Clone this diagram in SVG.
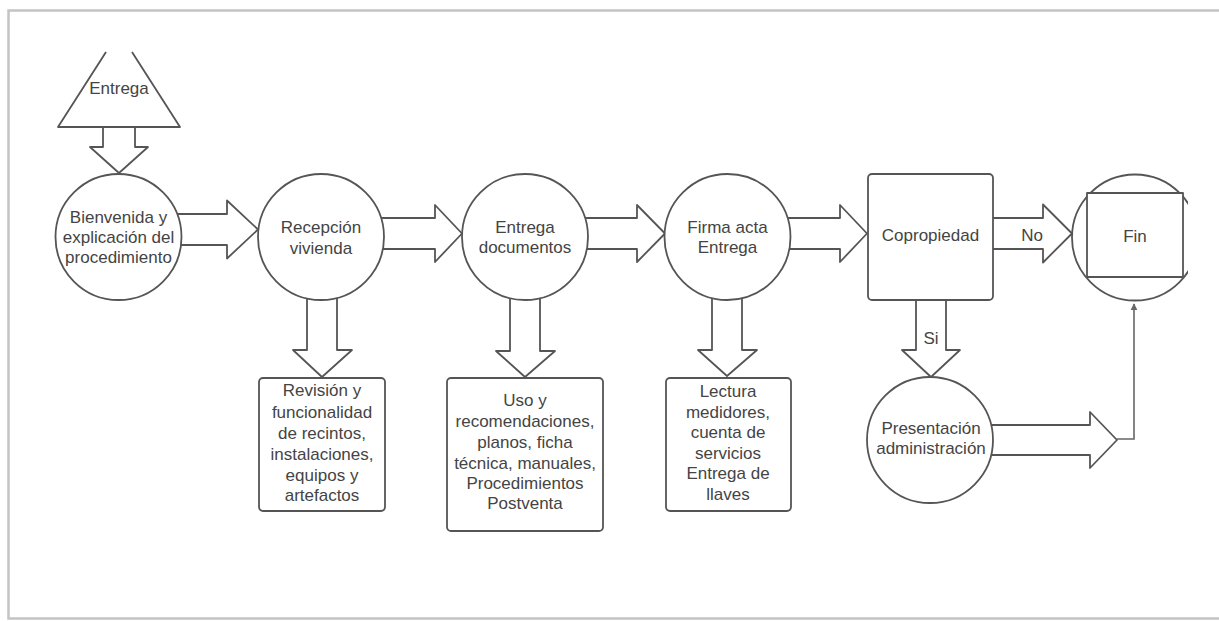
<svg xmlns="http://www.w3.org/2000/svg" width="1219" height="621" viewBox="0 0 1219 621">
<defs>
<style>
.s{fill:#fff;stroke:#555;stroke-width:1.8;stroke-linejoin:round}
.t{font-family:"Liberation Sans",Arial,sans-serif;font-size:17px;fill:#444;text-anchor:middle}
.ln{fill:none;stroke:#666;stroke-width:1.6}
.frame{fill:none;stroke:#c4c4c4;stroke-width:2.5}
</style>
<marker id="ah" viewBox="0 0 10 10" refX="9" refY="5" markerWidth="7" markerHeight="9" markerUnits="userSpaceOnUse" orient="auto">
<path d="M0,0 L10,5 L0,10 Z" fill="#666"/>
</marker>
<clipPath id="finclip"><rect x="1060" y="160" width="128" height="160"/></clipPath>
</defs>
<rect width="1219" height="621" fill="#fff"/>
<path class="frame" d="M1219,10.5 H8.5 V618.5 H1219"/>
<g id="connectors">
<polygon class="s" points="175,214 227,214 227,200.5 258,229.5 227,258.5 227,245 175,245"/>
<polygon class="s" points="378,218 435,218 435,205 462,233.5 435,262 435,249 378,249"/>
<polygon class="s" points="582,218 637,218 637,205 665,233.5 637,262 637,249 582,249"/>
<polygon class="s" points="785,218 840,218 840,205 867,233.5 840,262 840,249 785,249"/>
<polygon class="s" points="990,218 1043,218 1043,204.5 1072,233.5 1043,262.5 1043,249 990,249"/>
<text class="t" x="1032" y="241">No</text>
<polygon class="s" points="985,425 1090,425 1090,412 1117,440 1090,468 1090,455 985,455"/>
<polyline class="ln" points="1117,439 1134,439 1134,304" marker-end="url(#ah)"/>
<polygon class="s" points="103,122 103,147 90,147 119,173 148,147 135,147 135,122"/>
<polygon class="s" points="307,295 307,350 293,350 322,377 352,350 337,350 337,295"/>
<polygon class="s" points="510,295 510,351 496,351 525,377 555,351 540,351 540,295"/>
<polygon class="s" points="712,295 712,350 698,350 727,376 757,350 742,350 742,295"/>
<polygon class="s" points="916,298 916,350 902,350 931,377 960,350 946,350 946,298"/>
<text class="t" x="931" y="344">Si</text>
</g>
<g id="n-entrega">
<path class="s" d="M106,52 L58,127 L180,127 L132,52"/>
<text class="t" x="119" y="94">Entrega</text>
</g>
<g id="n-bienvenida">
<circle class="s" cx="118.5" cy="237" r="63"/>
<text class="t" x="118.5" y="223">Bienvenida y</text>
<text class="t" x="118.5" y="243">explicación del</text>
<text class="t" x="118.5" y="263">procedimiento</text>
</g>
<g id="n-recepcion">
<circle class="s" cx="321" cy="237" r="63"/>
<text class="t" x="321" y="233">Recepción</text>
<text class="t" x="321" y="254">vivienda</text>
</g>
<g id="n-documentos">
<circle class="s" cx="525" cy="237" r="63"/>
<text class="t" x="525" y="233">Entrega</text>
<text class="t" x="525" y="253">documentos</text>
</g>
<g id="n-firma">
<circle class="s" cx="727.5" cy="237" r="63"/>
<text class="t" x="727.5" y="233">Firma acta</text>
<text class="t" x="727.5" y="253">Entrega</text>
</g>
<g id="n-copropiedad">
<rect class="s" x="868" y="174" width="125" height="126" rx="4"/>
<text class="t" x="930.5" y="241">Copropiedad</text>
</g>
<g id="n-fin">
<g clip-path="url(#finclip)">
<circle class="s" cx="1135" cy="237.5" r="63"/>
</g>
<rect class="s" x="1087" y="193" width="96" height="84" fill="none"/>
<text class="t" x="1135" y="242">Fin</text>
</g>
<g id="n-presentacion">
<circle class="s" cx="930" cy="440" r="63"/>
<text class="t" x="931" y="434">Presentación</text>
<text class="t" x="931" y="454">administración</text>
</g>
<g id="n-revision">
<rect class="s" x="259" y="378" width="126" height="133" rx="4"/>
<text class="t" x="322" y="396">Revisión y</text>
<text class="t" x="322" y="418">funcionalidad</text>
<text class="t" x="322" y="439">de recintos,</text>
<text class="t" x="322" y="460">instalaciones,</text>
<text class="t" x="322" y="481">equipos y</text>
<text class="t" x="322" y="501">artefactos</text>
</g>
<g id="n-uso">
<rect class="s" x="447" y="378" width="156" height="153" rx="4"/>
<text class="t" x="525" y="406">Uso y</text>
<text class="t" x="525" y="427">recomendaciones,</text>
<text class="t" x="525" y="448">planos, ficha</text>
<text class="t" x="525" y="469">técnica, manuales,</text>
<text class="t" x="525" y="489">Procedimientos</text>
<text class="t" x="525" y="509">Postventa</text>
</g>
<g id="n-lectura">
<rect class="s" x="666" y="378" width="125" height="133" rx="4"/>
<text class="t" x="728" y="397">Lectura</text>
<text class="t" x="728" y="418">medidores,</text>
<text class="t" x="728" y="438">cuenta de</text>
<text class="t" x="728" y="459">servicios</text>
<text class="t" x="728" y="479">Entrega de</text>
<text class="t" x="728" y="500">llaves</text>
</g>
</svg>
